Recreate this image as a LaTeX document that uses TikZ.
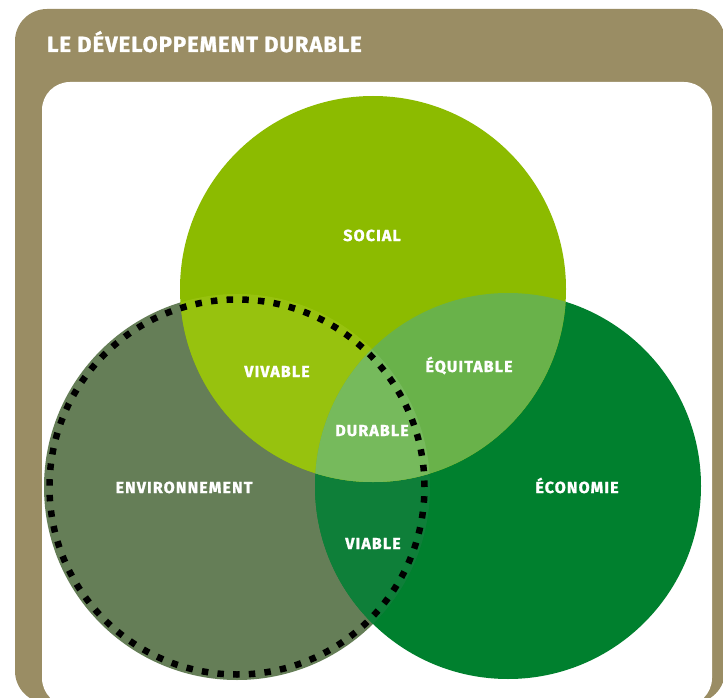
\documentclass[tikz,border=0pt]{standalone}
\usepackage{fontspec}
\setmainfont{Fira Sans}
\newfontfamily\lblfont[LetterSpace=7,BoldFeatures={FakeBold=1.3}]{Fira Sans}
\newfontfamily\ttlfont[LetterSpace=4.5,BoldFeatures={FakeBold=1.3}]{Fira Sans}
\definecolor{khaki}{HTML}{9A8D64}
\definecolor{socc}{HTML}{8CBB00}
\definecolor{envc}{HTML}{657E57}
\definecolor{ecoc}{HTML}{00802E}
\definecolor{vivc}{HTML}{97C20E}
\definecolor{equc}{HTML}{69B24A}
\definecolor{durc}{HTML}{76BA5C}
\definecolor{viac}{HTML}{0E7F39}
\begin{document}
\begin{tikzpicture}[x=1pt,y=-1pt,
  lbl/.style={text=white,font=\lblfont\bfseries\fontsize{16}{16}\selectfont,inner sep=0pt,anchor=base},
  ttl/.style={text=white,font=\ttlfont\bfseries\fontsize{22}{22}\selectfont,inner sep=0pt,anchor=base west},
  dotring/.style={black,line width=6.5pt,dash pattern=on 6.5pt off 9.21pt}]
\fill[white] (0,0) rectangle (723,698);
\useasboundingbox (0,0) rectangle (723,698);
\begin{scope}
  \clip (0,0) rectangle (723,698);
  \fill[khaki,rounded corners=32pt] (15,9) rectangle (725,703);
  \fill[white,rounded corners=28pt] (42,82) rectangle (712,706);
\end{scope}
\coordinate (S) at (373,289);
\coordinate (E) at (237,487);
\coordinate (C) at (508,486);
% base circles
\fill[envc] (E) circle (193pt);
\fill[ecoc] (C) circle (193pt);
\begin{scope}
  \clip (E) circle (193pt);
  \fill[viac] (C) circle (193pt);
\end{scope}
\fill[socc] (S) circle (193pt);
\begin{scope}
  \clip (S) circle (193pt);
  \fill[vivc] (E) circle (193pt);
  \fill[equc] (C) circle (193pt);
  \clip (E) circle (193pt);
  \fill[durc] (C) circle (193pt);
\end{scope}
\draw[dotring] (E) circle (187.5pt);
% texts
\node[ttl] (title) at (47,52) {LE DÉVELOPPEMENT DURABLE};
\node[lbl] (social) at (372,241) {SOCIAL};
\node[lbl] (vivable) at (277,377) {VIVABLE};
\node[lbl] (equitable) at (469,372) {ÉQUITABLE};
\node[lbl] (durable) at (372,436) {DURABLE};
\node[lbl] (environnement) at (184,493) {ENVIRONNEMENT};
\node[lbl] (economie) at (577,493) {ÉCONOMIE};
\node[lbl] (viable) at (373,549) {VIABLE};
\end{tikzpicture}
\end{document}
